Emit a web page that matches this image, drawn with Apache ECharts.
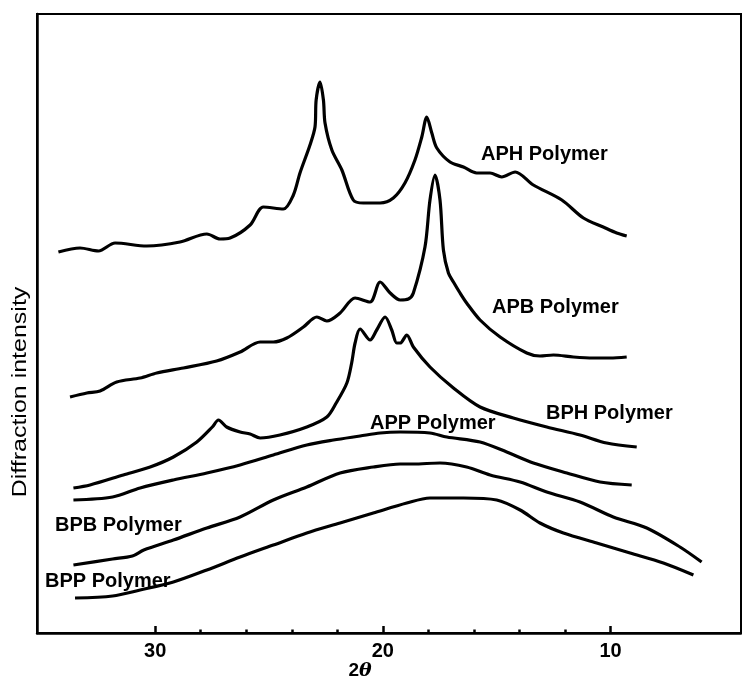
<!DOCTYPE html>
<html>
<head>
<meta charset="utf-8">
<script src="https://cdn.jsdelivr.net/npm/echarts@6/dist/echarts.min.js"></script>
<style>
html,body{margin:0;padding:0;background:#fff;}
#chart{width:742px;height:685px;}
</style>
</head>
<body>
<div id="chart"></div>
<script>
// 2θ (degrees) vs. diffraction intensity (arbitrary units)
const APH = [[34.25,381],[33.30,385],[32.49,382],[31.76,390],[30.37,387],[28.91,391],[27.73,399],[27.15,394],[26.71,395],[25.83,408],[25.25,426],[24.37,424],[23.93,438],[23.64,460],[23.20,488],[22.98,506],[22.93,533],[22.76,551],[22.61,533],[22.54,510],[22.24,483],[21.80,463],[21.30,433],[20.86,430],[20.12,430],[19.54,435],[19.03,450],[18.59,473],[18.29,496],[18.07,516],[17.85,500],[17.63,485],[17.05,471],[16.46,466],[15.88,460],[15.29,460],[14.78,456],[14.19,461],[13.39,448],[12.14,433],[11.19,415],[10.32,406],[9.73,400],[9.29,397]];
const APB = [[33.74,236],[33.00,240],[32.42,242],[31.69,251],[30.66,255],[29.93,260],[28.76,265],[27.30,272],[26.27,281],[25.39,291],[24.81,291],[24.22,295],[23.49,306],[22.90,316],[22.46,312],[21.88,320],[21.22,335],[20.56,331],[20.12,351],[19.68,340],[19.24,333],[18.88,334],[18.66,340],[18.15,386],[17.93,433],[17.71,458],[17.49,433],[17.34,383],[17.12,360],[16.90,351],[16.61,340],[16.32,330],[15.73,313],[14.85,296],[13.68,280],[13.10,277],[12.51,278],[11.63,276],[10.76,275],[10.02,275],[9.29,276]];
const BPH = [[33.59,145],[32.86,148],[31.40,158],[30.22,166],[29.20,176],[28.17,191],[27.49,206],[27.22,213],[26.86,206],[26.27,201],[25.83,199],[25.39,195],[24.52,198],[23.34,206],[22.46,216],[22.05,230],[21.58,250],[21.37,270],[21.22,290],[21.00,304],[20.56,293],[20.27,303],[19.90,316],[19.61,303],[19.39,290],[19.24,290],[18.95,298],[18.66,286],[17.93,266],[16.90,245],[15.73,226],[14.27,215],[12.80,206],[11.34,198],[10.17,190],[8.85,186]];
const APP = [[33.59,133],[31.87,136],[30.66,145],[29.20,153],[27.73,160],[26.27,168],[24.81,178],[23.34,188],[22.17,193],[21.00,197],[20.12,200],[19.24,201],[17.93,200],[17.19,196],[15.73,191],[14.56,181],[13.39,170],[11.92,160],[10.46,151],[9.07,148]];
const BPB = [[33.59,68],[31.87,74],[31.00,77],[30.50,83],[29.20,93],[27.73,105],[26.27,116],[24.81,133],[23.34,146],[21.88,160],[20.42,166],[19.24,169],[18.66,169],[17.49,170],[16.32,166],[15.29,158],[13.97,151],[12.80,141],[11.34,131],[9.88,116],[8.41,105],[6.95,86],[6.00,71]];
const BPP = [[33.52,35],[31.87,37],[30.66,43],[29.20,51],[27.73,63],[26.27,76],[24.81,88],[23.34,100],[21.88,110],[20.42,120],[18.95,130],[17.93,135],[16.46,135],[15.00,133],[13.97,123],[13.10,110],[12.07,100],[10.61,90],[9.14,80],[7.68,70],[6.36,58]];

const seriesNames = ['APH Polymer','APB Polymer','BPH Polymer','APP Polymer','BPB Polymer','BPP Polymer'];
const seriesData = [APH, APB, BPH, APP, BPB, BPP];

const majorTicks = [10, 20, 30];
const minorTicks = [12, 14, 16, 18, 22, 24, 26, 28];
const xMin = 4.27, xMax = 35.19;
const yMin = 0, yMax = 619;

const FONT = '"Liberation Sans", Arial, Helvetica, sans-serif';

const chart = echarts.init(document.getElementById('chart'), null, {renderer: 'canvas'});

const series = seriesData.map((d, i) => ({
  name: seriesNames[i],
  type: 'line',
  data: d,
  xAxisIndex: 0,
  yAxisIndex: 0,
  showSymbol: false,
  smooth: 0.3,
  lineStyle: {color: '#000', width: 3.2},
  silent: true,
  animation: false
}));

// label placement (pixel positions of annotation text)
const labelPos = [[481,154],[492,307],[546,413],[370,423],[55,525],[45,581]];
const graphics = seriesNames.map((n, i) => ({
  type: 'text',
  x: labelPos[i][0],
  y: labelPos[i][1],
  z: 10,
  style: {text: n, fill: '#000', font: 'bold 20px ' + FONT, align: 'left', verticalAlign: 'middle'}
}));
graphics.push({
  type: 'text', x: 20, y: 392, rotation: Math.PI / 2, scaleX: 1.25,
  style: {text: 'Diffraction intensity', fill: '#000', font: '20px ' + FONT, align: 'center', verticalAlign: 'middle'}
});
graphics.push({
  type: 'text', x: 360, y: 671,
  style: {
    text: '{a|2}{b|θ}', align: 'center', verticalAlign: 'middle', fill: '#000',
    rich: {
      a: {font: 'bold 19px ' + FONT, fill: '#000'},
      b: {font: 'italic bold 19px "DejaVu Serif", serif', fill: '#000'}
    }
  }
});

chart.setOption({
  backgroundColor: '#fff',
  animation: false,
  grid: {left: 37, right: 1, top: 14, bottom: 52, show: true, borderColor: '#000', borderWidth: 2, backgroundColor: 'transparent'},
  xAxis: [{
    type: 'value', min: xMin, max: xMax, inverse: true, position: 'bottom',
    axisLine: {show: true, onZero: false, lineStyle: {color: '#000', width: 2.5}},
    axisTick: {show: true, inside: true, length: 7, lineStyle: {color: '#000', width: 2.5}, customValues: majorTicks},
    axisLabel: {show: true, customValues: majorTicks, margin: 8, color: '#000', fontFamily: FONT, fontSize: 20, fontWeight: 'bold'},
    splitLine: {show: false}
  }, {
    type: 'value', min: xMin, max: xMax, inverse: true, position: 'bottom', gridIndex: 0,
    axisLine: {show: false, onZero: false},
    axisTick: {show: true, inside: true, length: 3.5, lineStyle: {color: '#000', width: 2.5}, customValues: minorTicks},
    axisLabel: {show: false},
    splitLine: {show: false}
  }],
  yAxis: {
    type: 'value', min: yMin, max: yMax,
    axisLine: {show: true, lineStyle: {color: '#000', width: 2.5}},
    axisTick: {show: false}, axisLabel: {show: false}, splitLine: {show: false}
  },
  series: series,
  graphic: graphics
});
</script>
</body>
</html>
